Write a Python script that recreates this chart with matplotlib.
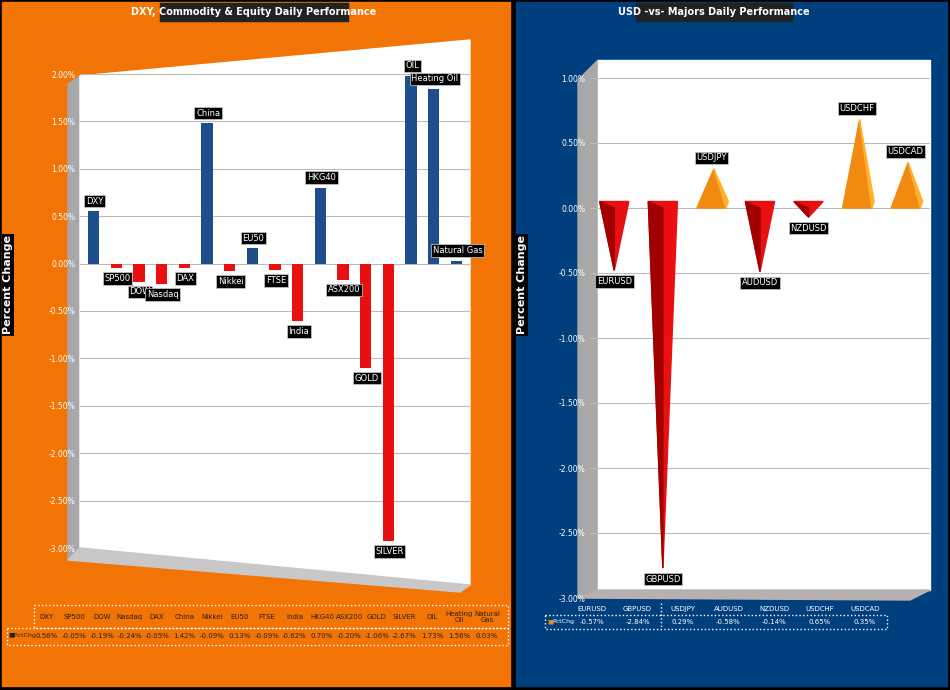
import matplotlib
matplotlib.use("Agg")
import matplotlib.pyplot as plt
from matplotlib.patches import Rectangle, Polygon
from matplotlib.ticker import FuncFormatter

left_cats = ["DXY","SP500","DOW","Nasdaq","DAX","China","Nikkei","EU50","FTSE","India","HKG40","ASX200","GOLD","SILVER","OIL","Heating Oil","Natural Gas"]
left_bars = [0.55,-0.05,-0.19,-0.22,-0.05,1.48,-0.08,0.16,-0.07,-0.61,0.80,-0.17,-1.10,-2.93,1.98,1.84,0.03]
left_tbl_hdr = ["DXY","SP500","DOW","Nasdaq","DAX","China","Nikkei","EU50","FTSE","India","HKG40","ASX200","GOLD","SILVER","OIL","Heating\nOil","Natural\nGas"]
left_tbl_vals = ["0.56%","-0.05%","-0.19%","-0.24%","-0.05%","1.42%","-0.09%","0.13%","-0.09%","-0.62%","0.70%","-0.20%","-1.06%","-2.67%","1.73%","1.56%","0.03%"]

right_cats = ["EURUSD","GBPUSD","USDJPY","AUDUSD","NZDUSD","USDCHF","USDCAD"]
right_vals = [-0.48,-2.77,0.30,-0.49,-0.07,0.68,0.35]
right_tbl_vals = ["-0.57%","-2.84%","0.29%","-0.58%","-0.14%","0.65%","0.35%"]

W, H = 950, 690
fig = plt.figure(figsize=(9.5, 6.9), dpi=100, facecolor="black")
def fx(px): return px / W
def fy(py): return 1 - py / H

bg = fig.add_axes([0, 0, 1, 1]); bg.set_xlim(0, W); bg.set_ylim(H, 0); bg.axis("off")
bg.add_patch(Rectangle((2, 2), 508, 684, color="#F27405"))
bg.add_patch(Rectangle((516, 2), 431, 684, color="#003F7D"))
# titles
bg.add_patch(Rectangle((160, 3), 188, 18, color="#222222"))
bg.text(254, 12, "DXY, Commodity & Equity Daily Performance", color="white", ha="center", va="center", fontsize=7, fontweight="bold")
bg.add_patch(Rectangle((636, 3), 156, 18, color="#222222"))
bg.text(714, 12, "USD -vs- Majors Daily Performance", color="white", ha="center", va="center", fontsize=7, fontweight="bold")
# 3D walls
bg.add_patch(Polygon([(68, 84), (80, 76), (80, 548), (68, 560)], color="#A8A8A8"))
bg.add_patch(Polygon([(80, 76), (470, 40), (470, 585), (80, 548)], color="white"))
bg.add_patch(Polygon([(68, 560), (80, 548), (470, 585), (460, 592)], color="#C8C8C8"))
bg.add_patch(Polygon([(578, 80), (598, 60), (598, 590), (578, 598)], color="#A8A8A8"))
bg.add_patch(Polygon([(598, 60), (930, 60), (930, 590), (598, 590)], color="white"))
bg.add_patch(Polygon([(578, 598), (598, 590), (930, 590), (910, 600)], color="#B8B0B0"))
bg.text(8, 285, "Percent Change", rotation=90, color="white", ha="center", va="center", fontsize=8, fontweight="bold",
        bbox=dict(facecolor="black", edgecolor="none", pad=1))
bg.text(522, 285, "Percent Change", rotation=90, color="white", ha="center", va="center", fontsize=8, fontweight="bold",
        bbox=dict(facecolor="black", edgecolor="none", pad=1))

pct = FuncFormatter(lambda v, p: f"{v:.2f}%")

# left chart
ax = fig.add_axes([fx(80), fy(548), fx(390), (548 - 74) / H])
ax.set_facecolor("none")
x = range(len(left_cats))
cols = ["#1F4E8C" if v >= 0 else "#E81010" for v in left_bars]
ax.bar(x, left_bars, width=0.5, color=cols)
ax.set_ylim(-3, 2); ax.set_xlim(-0.6, len(left_cats) - 0.4)
ax.set_yticks([i * 0.5 for i in range(-6, 5)])
ax.yaxis.set_major_formatter(pct)
ax.tick_params(axis="y", labelsize=5.5, colors="white", length=0)
ax.set_xticks([])
ax.grid(axis="y", color="#BBBBBB", lw=0.8)
ax.set_axisbelow(True)
for s in ax.spines.values(): s.set_visible(False)
for i, (c, v) in enumerate(zip(left_cats, left_bars)):
    off = 0.06 if v >= 0 else -0.06
    ax.text(i + 0.05, v + off, c, ha="center", va="bottom" if v >= 0 else "top", fontsize=6, color="white",
            bbox=dict(facecolor="black", edgecolor="#CCCCCC", pad=1.2, lw=0.5))

# left table
for i, (h_, v) in enumerate(zip(left_tbl_hdr, left_tbl_vals)):
    cx = 47 + 27.5 * i
    bg.text(cx, 617, h_, ha="center", va="center", fontsize=5, color="#222222", linespacing=0.9)
    bg.text(cx, 636, v, ha="center", va="center", fontsize=5, color="#222222")
bg.text(8, 636, "■PctChg", ha="left", va="center", fontsize=4.5, color="#222222")
bg.add_patch(Rectangle((34, 605), 474, 23, fill=False, ec="white", ls=":", lw=1))
bg.add_patch(Rectangle((7, 628), 501, 17, fill=False, ec="white", ls=":", lw=1))

# right chart
ax2 = fig.add_axes([fx(590), fy(598), fx(340), (598 - 78) / H])
ax2.set_facecolor("none")
ax2.set_ylim(-3, 1); ax2.set_xlim(-0.5, len(right_cats) - 0.5)
ax2.set_yticks([i * 0.5 for i in range(-6, 3)])
ax2.yaxis.set_major_formatter(pct)
ax2.tick_params(axis="y", labelsize=5.5, colors="white", length=0)
ax2.set_xticks([])
ax2.grid(axis="y", color="#BBBBBB", lw=0.8)
ax2.set_axisbelow(True)
for s in ax2.spines.values(): s.set_visible(False)
for i, (c, v) in enumerate(zip(right_cats, right_vals)):
    hw = 0.3
    if v >= 0:
        ax2.add_patch(Polygon([(i - hw, 0), (i + hw, 0), (i + 0.05, v)], color="#F08A10"))
        ax2.add_patch(Polygon([(i + 0.05, v), (i + hw, 0), (i + hw + 0.05, 0.05)], color="#FFB030"))
        ax2.text(i, v + 0.05, c, ha="center", va="bottom", fontsize=6, color="white",
                 bbox=dict(facecolor="black", edgecolor="#CCCCCC", pad=1.2, lw=0.5))
    else:
        ax2.add_patch(Polygon([(i - hw, 0.05), (i + hw, 0.05), (i, v)], color="#E81010"))
        ax2.add_patch(Polygon([(i - hw, 0.05), (i, 0), (i, v)], color="#A00000"))
        ax2.text(i, v - 0.05, c, ha="center", va="top", fontsize=6, color="white",
                 bbox=dict(facecolor="black", edgecolor="#CCCCCC", pad=1.2, lw=0.5))
for i, (c, v) in enumerate(zip(right_cats, right_tbl_vals)):
    cx = 592 + 45.5 * i
    bg.text(cx, 609, c, ha="center", va="center", fontsize=5, color="white")
    bg.text(cx, 622, v, ha="center", va="center", fontsize=5, color="white")
bg.text(547, 622, "■", ha="left", va="center", fontsize=4.5, color="#F08A10")
bg.text(552, 622, "PctChg", ha="left", va="center", fontsize=4.5, color="white")
bg.add_patch(Rectangle((545, 615), 342, 14, fill=False, ec="white", ls=":", lw=1))
bg.plot([661, 661], [603, 629], color="white", ls=":", lw=1)

fig.savefig("out.png", dpi=100, facecolor="black")
